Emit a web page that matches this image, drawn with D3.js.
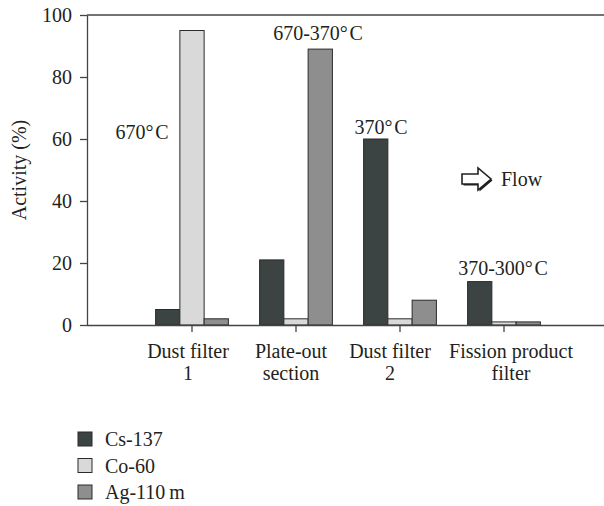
<!DOCTYPE html>
<html>
<head>
<meta charset="utf-8">
<script src="https://cdn.jsdelivr.net/npm/d3@7"></script>
<style>
  body { margin: 0; background: #fff; }
  svg { display: block; font-family: "Liberation Serif", "DejaVu Serif", serif; }
  text { fill: #231f20; }
</style>
</head>
<body>
<svg width="604" height="506"></svg>
<script>
// data
var categories = ["Dust filter 1", "Plate-out section", "Dust filter 2", "Fission product filter"];
var labelLines = [["Dust filter", "1"], ["Plate-out", "section"], ["Dust filter", "2"], ["Fission product", "filter"]];
var series = ["Cs-137", "Co-60", "Ag-110\u2009m"];
var cs137 = [5, 21, 60, 14];
var co60 = [95, 2, 2, 1];
var ag110m = [2, 89, 8, 1];
var temps = ["670\u00b0\u200aC", "670-370\u00b0\u200aC", "370\u00b0\u200aC", "370-300\u00b0\u200aC"];
var yTicks = [0, 20, 40, 60, 80, 100];

var colors = ["#3b4442", "#d9d9d9", "#8e8e8e"];
var values = [cs137, co60, ag110m];

var svg = d3.select("svg");
var margin = {top: 15, left: 87, bottom: 325},
    width = 604,
    fs = 20;

// leave an empty slot to the left of the first group, like the original
var x = d3.scaleBand()
    .domain(categories)
    .range([margin.left + 1, width + 4])
    .paddingInner(0)
    .paddingOuter(0.5);

var x1 = d3.scaleBand()
    .domain(series)
    .range([0, x.bandwidth() * 0.7]);

var y = d3.scaleLinear()
    .domain([0, 100])
    .range([margin.bottom, margin.top]);

// bars
categories.forEach(function(c, i) {
  var g = svg.append("g")
      .attr("transform", "translate(" + (x(c) + x.bandwidth() * 0.15) + ",0)");
  g.selectAll("rect")
    .data(series)
    .enter().append("rect")
      .attr("x", function(s) { return x1(s); })
      .attr("y", function(s, j) { return y(values[j][i]); })
      .attr("width", x1.bandwidth())
      .attr("height", function(s, j) { return y(0) - y(values[j][i]); })
      .attr("fill", function(s, j) { return colors[j]; })
      .attr("stroke", "#2b2b2b")
      .attr("stroke-width", 1);
});

// axes
var yAxis = svg.append("g")
    .attr("transform", "translate(" + margin.left + ",0)")
    .call(d3.axisLeft(y).tickValues(yTicks).tickSize(7).tickPadding(8).tickSizeOuter(0));

var xAxis = svg.append("g")
    .attr("transform", "translate(0," + margin.bottom + ")")
    .call(d3.axisBottom(x).tickSize(7).tickSizeOuter(0).tickFormat(""));
xAxis.select(".domain").attr("d", "M" + margin.left + ",0.5H" + width);

svg.selectAll(".domain, .tick line").attr("stroke", "#444").attr("stroke-width", 1.3);
yAxis.selectAll("text").attr("font-size", fs).attr("font-family", "Liberation Serif").attr("fill", "#231f20");

// top frame line
svg.append("line")
    .attr("x1", margin.left).attr("x2", width)
    .attr("y1", margin.top).attr("y2", margin.top)
    .attr("stroke", "#444").attr("stroke-width", 1.3);

// category labels
var labelShift = [-4, -5, -10, 7];
categories.forEach(function(c, i) {
  var cx = x(c) + x.bandwidth() / 2 + labelShift[i];
  var t = svg.append("text")
      .attr("text-anchor", "middle")
      .attr("font-size", fs)
      .attr("y", 358);
  labelLines[i].forEach(function(l, k) {
    t.append("tspan")
        .attr("x", cx)
        .attr("dy", k ? 22 : 0)
        .text(l);
  });
});

// axis title
svg.append("text")
    .attr("transform", "translate(26," + (margin.top + margin.bottom) / 2 + ") rotate(-90)")
    .attr("text-anchor", "middle")
    .attr("font-size", fs)
    .text("Activity (%)");

// temperature notes
var tempPos = [
  {x: x(categories[0]) + x.bandwidth() / 2 - 50, v: 60},
  {x: x(categories[1]) + x.bandwidth() / 2 + 22, v: 92},
  {x: x(categories[2]) + x.bandwidth() / 2 - 19, v: 61.5},
  {x: x(categories[3]) + x.bandwidth() / 2 - 1, v: 16}
];
svg.selectAll(".temp")
  .data(temps)
  .enter().append("text")
    .attr("class", "temp")
    .attr("text-anchor", "middle")
    .attr("font-size", fs)
    .attr("x", function(d, i) { return tempPos[i].x; })
    .attr("y", function(d, i) { return y(tempPos[i].v); })
    .text(function(d) { return d; });

// flow arrow
var ax = 462, ay = 179;
var arrow = "M0,-5H16V-11L29,0L16,11V5H0Z";
svg.append("path")
    .attr("d", arrow)
    .attr("transform", "translate(" + (ax + 1.5) + "," + (ay + 1.5) + ")")
    .attr("fill", "#222");
svg.append("path")
    .attr("d", arrow)
    .attr("transform", "translate(" + ax + "," + ay + ")")
    .attr("fill", "#fff")
    .attr("stroke", "#222")
    .attr("stroke-width", 1.6)
    .attr("stroke-linejoin", "miter");
svg.append("text")
    .attr("x", 501).attr("y", 186)
    .attr("font-size", fs)
    .text("Flow");

// legend
var legend = svg.selectAll(".legend")
  .data(series)
  .enter().append("g")
    .attr("class", "legend")
    .attr("transform", function(d, i) { return "translate(78," + (432 + i * 26.5) + ")"; });
legend.append("rect")
    .attr("width", 14).attr("height", 14)
    .attr("fill", function(d, i) { return colors[i]; })
    .attr("stroke", "#2b2b2b");
legend.append("text")
    .attr("x", 27).attr("y", 14)
    .attr("font-size", fs)
    .text(function(d) { return d; });
</script>
</body>
</html>
